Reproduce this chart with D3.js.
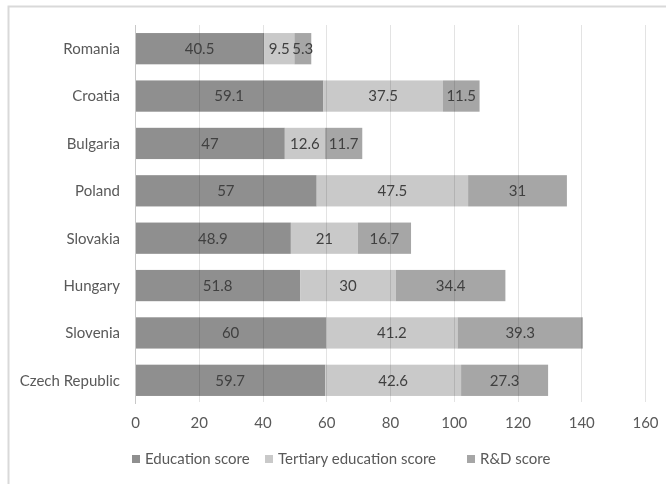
<!DOCTYPE html>
<html>
<head>
<meta charset="utf-8">
<script src="https://cdn.jsdelivr.net/npm/d3@7"></script>
<style>
  html, body { margin: 0; padding: 0; background: #fff; }
  svg { display: block; font-family: Lato, "Open Sans", sans-serif; }
</style>
</head>
<body>
<svg id="chart" width="666" height="484"></svg>
<script>
// Countries, listed top to bottom
const countries = ["Romania", "Croatia", "Bulgaria", "Poland", "Slovakia", "Hungary", "Slovenia", "Czech Republic"];

// Score components per country
const educationScore = [40.5, 59.1, 47, 57, 48.9, 51.8, 60, 59.7];
const tertiaryScore  = [9.5, 37.5, 12.6, 47.5, 21, 30, 41.2, 42.6];
const rdScore        = [5.3, 11.5, 11.7, 31, 16.7, 34.4, 39.3, 27.3];

const seriesNames  = ["Education score", "Tertiary education score", "R&D score"];
const seriesColors = ["#8f8f8f", "#c9c9c9", "#a6a6a6"];
const xTicks = [0, 20, 40, 60, 80, 100, 120, 140, 160];

const svg = d3.select("#chart");
const W = 666, H = 484;
const FS = 15;

// outer frame (top and left edges)
svg.append("path")
  .attr("d", `M8.5,${H} V6.5 H${W}`)
  .attr("fill", "none")
  .attr("stroke", "#d9d9d9")
  .attr("stroke-width", 2);

const plot = { left: 135, right: 645, top: 25, bottom: 404 };

const x = d3.scaleLinear().domain([0, 160]).range([plot.left, plot.right]);
const y = d3.scaleBand().domain(countries).range([plot.top, plot.bottom]).paddingInner(0.34).paddingOuter(0.17);

const rows = countries.map((c, i) => ({ country: c, values: [educationScore[i], tertiaryScore[i], rdScore[i]] }));
const stack = d3.stack().keys([0, 1, 2]).value((d, k) => d.values[k]);
const layers = stack(rows);

// bars
const g = svg.append("g");
layers.forEach((layer, k) => {
  g.selectAll(null)
    .data(layer)
    .join("rect")
    .attr("x", d => x(d[0]))
    .attr("width", d => x(d[1]) - x(d[0]))
    .attr("y", d => y(d.data.country))
    .attr("height", y.bandwidth())
    .attr("fill", seriesColors[k]);
});

// vertical gridlines, drawn over bars
svg.append("g")
  .selectAll("line")
  .data(xTicks.slice(1))
  .join("line")
  .attr("x1", d => Math.round(x(d)) + 0.5)
  .attr("x2", d => Math.round(x(d)) + 0.5)
  .attr("y1", plot.top)
  .attr("y2", plot.bottom - 2)
  .attr("stroke", "#e3e3e3")
  .style("mix-blend-mode", "multiply");

// category axis line
svg.append("line")
  .attr("x1", Math.round(x(0)) + 0.5).attr("x2", Math.round(x(0)) + 0.5)
  .attr("y1", plot.top).attr("y2", plot.bottom)
  .attr("stroke", "#c8c8c8");

// value labels centred in each segment
layers.forEach((layer, k) => {
  svg.append("g").selectAll("text")
    .data(layer)
    .join("text")
    .attr("x", d => (x(d[0]) + x(d[1])) / 2)
    .attr("y", d => y(d.data.country) + y.bandwidth() / 2)
    .attr("dy", "0.36em")
    .attr("text-anchor", "middle")
    .attr("font-size", FS)
    .attr("fill", "#404040")
    .text(d => d.data.values[k]);
});

// country labels
svg.append("g").selectAll("text")
  .data(countries)
  .join("text")
  .attr("x", 120)
  .attr("y", d => y(d) + y.bandwidth() / 2)
  .attr("dy", "0.36em")
  .attr("text-anchor", "end")
  .attr("font-size", FS)
  .attr("fill", "#595959")
  .text(d => d);

// x axis tick labels
const xAxis = d3.axisBottom(x).tickValues(xTicks).tickSize(0).tickPadding(0);
const ax = svg.append("g").attr("transform", `translate(0,${plot.bottom})`).call(xAxis);
ax.select(".domain").remove();
ax.selectAll("text")
  .attr("y", 13)
  .attr("font-family", "Lato, 'Open Sans', sans-serif")
  .attr("font-size", FS)
  .attr("fill", "#595959");

// legend
const legendX = [132, 265, 467];
const lg = svg.append("g").selectAll("g")
  .data(seriesNames)
  .join("g")
  .attr("transform", (d, i) => `translate(${legendX[i]},459)`);
lg.append("rect").attr("x", 0).attr("y", -4).attr("width", 8).attr("height", 8)
  .attr("fill", (d, i) => seriesColors[i]);
lg.append("text").attr("x", 13).attr("dy", "0.36em")
  .attr("font-size", FS).attr("fill", "#595959")
  .text(d => d);
</script>
</body>
</html>
